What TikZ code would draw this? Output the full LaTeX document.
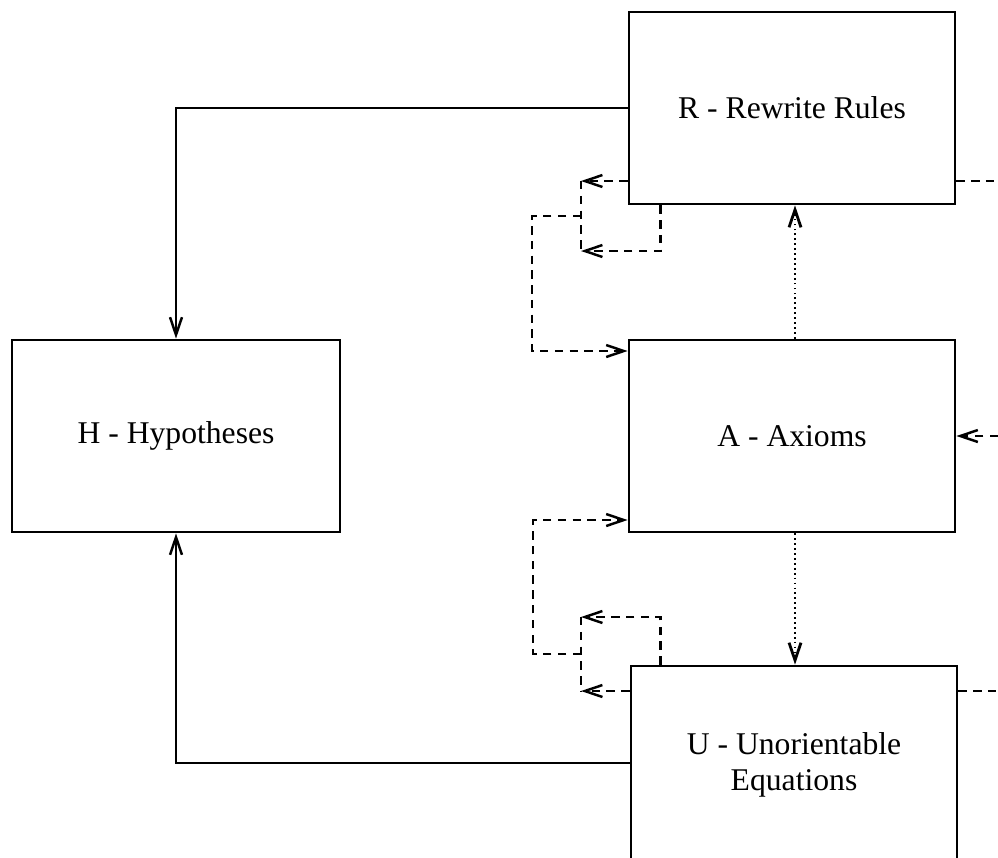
\documentclass[tikz,border=0pt]{standalone}
\usepackage{fontspec}
\setmainfont{Liberation Serif}
\usetikzlibrary{arrows.meta}
\tikzset{
  box/.style={draw, line width=0.75pt, minimum width=3.26cm, minimum height=1.92cm,
    align=center, inner sep=0pt, font=\fontsize{9pt}{10.2pt}\selectfont},
  link/.style={line width=0.7pt},
  dashlink/.style={line width=0.7pt, dash pattern=on 2.4pt off 1.8pt},
  dotlink/.style={line width=0.8pt, dash pattern=on 0.5pt off 0.9pt},
  >={Straight Barb[length=5pt,width=3.4pt]}
}
\begin{document}
\begin{tikzpicture}[x=0.01cm,y=-0.01cm]
\useasboundingbox (0,0) rectangle (998,857);
\node[box] (R) at (792,108) {R - Rewrite Rules};
\node[box] (A) at (792,436) {A - Axioms};
\node[box, minimum height=1.98cm] (U) at (794,765) {U - Unorientable\\Equations};
\node[box, minimum width=3.28cm] (H) at (176,436) {H - Hypotheses};

\draw[link,->] (R.west) -| (H.north);
\draw[link,->] (U.west |- 0,763) -| (H.south);

\draw[dotlink,->] (A.north -| 795,0) -- (R.south -| 795,0);
\draw[dotlink,->] (A.south -| 795,0) -- (U.north -| 795,0);

\coordinate (rtl) at (581,181);
\coordinate (rbl) at (581,251);
\coordinate (rj) at (581,216);
\coordinate (ra) at (532,351);
\draw[dashlink,->] (R.west |- rtl) -- (rtl);
\draw[dashlink,->] ([xshift=0.33cm]R.south west) |- (rbl);
\draw[dashlink] (rtl) -- (rbl);
\draw[dashlink,->] (rj) -| (ra) -- (A.west |- ra);

\coordinate (utl) at (581,617);
\coordinate (ubl) at (581,691);
\coordinate (uj) at (581,654);
\coordinate (ua) at (533,520);
\draw[dashlink,->] (U.west |- ubl) -- (ubl);
\draw[dashlink,->] ([xshift=0.31cm]U.north west) |- (utl);
\draw[dashlink] (utl) -- (ubl);
\draw[dashlink,->] (uj) -| (ua) -- (A.west |- ua);

\coordinate (rr) at (998,181);
\coordinate (ar) at (998,436);
\coordinate (ur) at (998,691);
\draw[dashlink] (R.east |- rr) -- (rr);
\draw[dashlink,->] (ar) -- (A.east);
\draw[dashlink] (U.east |- ur) -- (ur);
\end{tikzpicture}
\end{document}
